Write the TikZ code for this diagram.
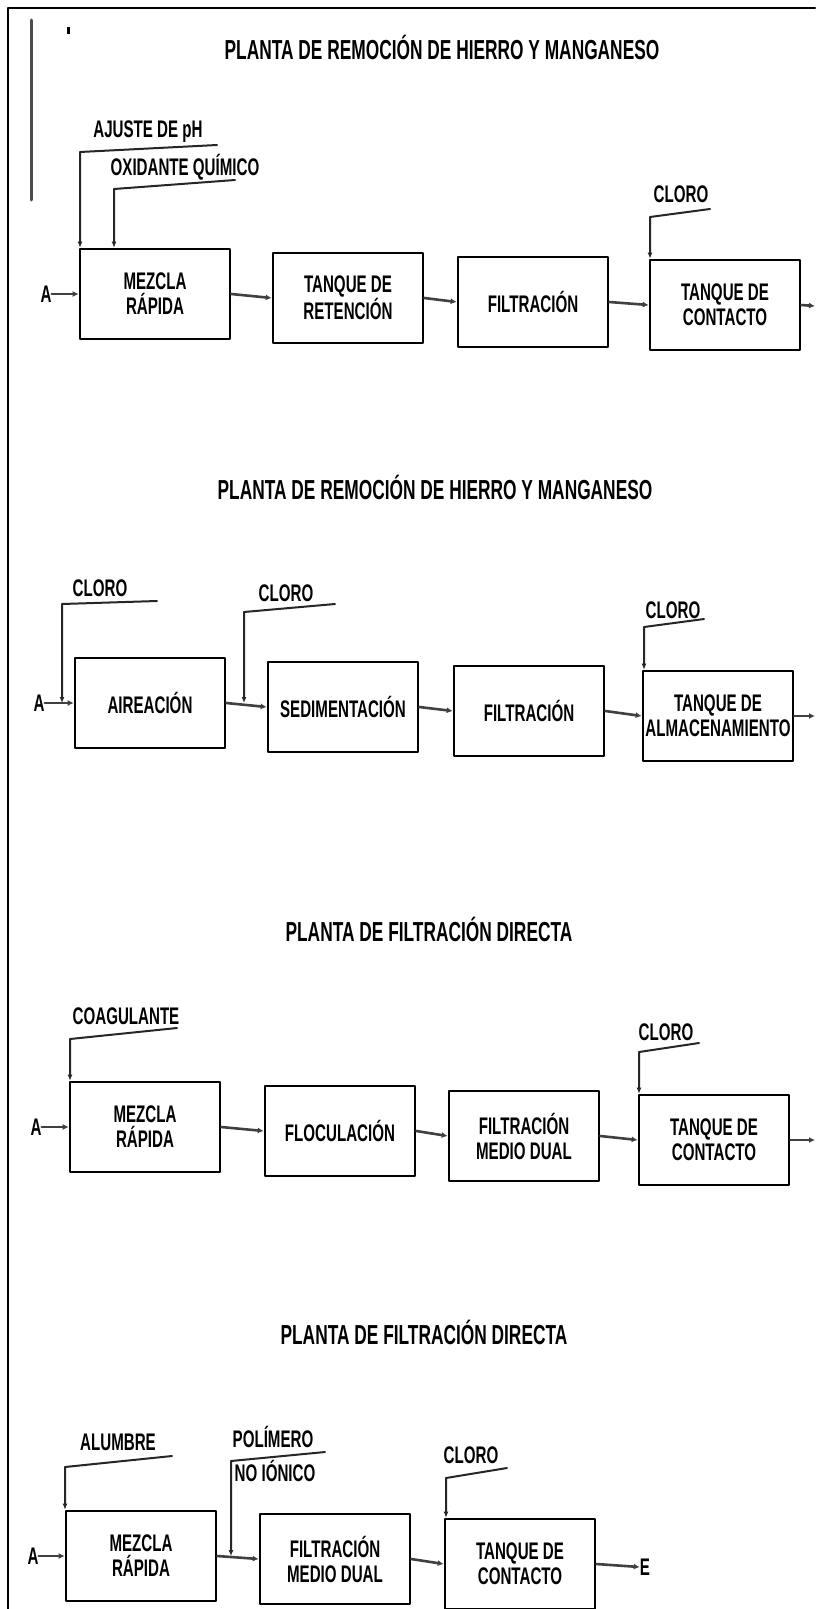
\documentclass[tikz,border=0pt]{standalone}
\usepackage{fontspec}
\setmainfont{Liberation Sans}[FakeStretch=0.63]
\usetikzlibrary{arrows.meta}

\newcommand{\boxfont}{\bfseries\fontsize{24}{25}\selectfont}
\newcommand{\titfont}{\bfseries\fontsize{27.5}{29}\selectfont}

\tikzset{
  proc/.style={draw=black, line width=2.6pt, minimum width=150pt,
    minimum height=90pt, inner sep=0pt, align=center, font=\boxfont},
  lbl/.style={inner sep=0pt, font=\boxfont},
  tit/.style={inner sep=0pt, font=\titfont},
  flow/.style={line width=2.6pt, black!75, -{Latex[length=6pt,width=6pt]}},
  feed/.style={line width=2pt, black!85, -{Latex[length=6pt,width=5pt]}},
}

\begin{document}
\begin{tikzpicture}[x=1pt,y=-1pt,line cap=round,line join=round]

  \useasboundingbox (0,0) rectangle (815,1609);

  % marco
  \draw[line width=2.8pt] (815,8) -- (8,8) -- (8,1609);
  \draw[line width=3pt, black!70] (31,20) -- (31,200);
  \fill (67,27) rectangle (70,34);

  % ---- fila 1 ----
  \node[tit] (t1) at (442,47) {PLANTA DE REMOCIÓN DE HIERRO Y MANGANESO};

  \node[proc] (mr1) at (155,294) {MEZCLA\\RÁPIDA};
  \node[proc] (tr1) at (348,298) {TANQUE DE\\RETENCIÓN};
  \node[proc] (fi1) at (533,302) {FILTRACIÓN};
  \node[proc] (tc1) at (725,305) {TANQUE DE\\CONTACTO};
  \node[lbl] (a1) at (46,294) {A};
  \coordinate (s1) at (815,306);

  \draw[flow] (a1.east) -- (mr1.west);
  \draw[flow] (mr1.east) -- (tr1.west);
  \draw[flow] (tr1.east) -- (fi1.west);
  \draw[flow] (fi1.east) -- (tc1.west);
  \draw[flow] (tc1.east) -- (s1);

  \node[lbl] (aj1) at (148,132) {AJUSTE DE pH};
  \coordinate (aj1c) at (80,152);
  \coordinate (aj1e) at (217,145);
  \draw[feed] (aj1e) -- (aj1c) -- (aj1c |- mr1.north);

  \node[lbl] (ox1) at (185,167) {OXIDANTE QUÍMICO};
  \coordinate (ox1c) at (114,189);
  \coordinate (ox1e) at (235,180);
  \draw[feed] (ox1e) -- (ox1c) -- (ox1c |- mr1.north);

  \node[lbl] (cl1) at (681,194) {CLORO};
  \coordinate (cl1c) at (650,217);
  \coordinate (cl1e) at (710,209);
  \draw[feed] (cl1e) -- (cl1c) -- (cl1c |- tc1.north);

  % ---- fila 2 ----
  \node[tit] (t2) at (435,487) {PLANTA DE REMOCIÓN DE HIERRO Y MANGANESO};

  \node[proc] (ai2) at (150,703) {AIREACIÓN};
  \node[proc] (se2) at (343,707) {SEDIMENTACIÓN};
  \node[proc] (fi2) at (529,711) {FILTRACIÓN};
  \node[proc] (al2) at (718,716) {TANQUE DE\\ALMACENAMIENTO};
  \node[lbl] (a2) at (39,703) {A};
  \coordinate (s2) at (815,716);

  \draw[flow] (a2.east) -- (ai2.west);
  \draw[flow] (ai2.east) -- (se2.west);
  \draw[flow] (se2.east) -- (fi2.west);
  \draw[flow] (fi2.east) -- (al2.west);
  \draw[flow] (al2.east) -- (s2);

  \node[lbl] (cl2a) at (100,588) {CLORO};
  \coordinate (cl2ac) at (62,604);
  \coordinate (cl2ae) at (157,601);
  \draw[feed] (cl2ae) -- (cl2ac) -- (cl2ac |- a2);

  \node[lbl] (cl2b) at (286,593) {CLORO};
  \coordinate (cl2bc) at (244,612);
  \coordinate (cl2be) at (335,604);
  \draw[feed] (cl2be) -- (cl2bc) -- (cl2bc |- ai2.east);

  \node[lbl] (cl2c) at (673,610) {CLORO};
  \coordinate (cl2cc) at (644,627);
  \coordinate (cl2ce) at (704,619);
  \draw[feed] (cl2ce) -- (cl2cc) -- (cl2cc |- al2.north);

  % ---- fila 3 ----
  \node[tit] (t3) at (429,929) {PLANTA DE FILTRACIÓN DIRECTA};

  \node[proc] (mr3) at (145,1127) {MEZCLA\\RÁPIDA};
  \node[proc] (fl3) at (340,1131) {FLOCULACIÓN};
  \node[proc] (fm3) at (524,1136) {FILTRACIÓN\\MEDIO DUAL};
  \node[proc] (tc3) at (714,1140) {TANQUE DE\\CONTACTO};
  \node[lbl] (a3) at (36,1127) {A};
  \coordinate (s3) at (815,1140);

  \draw[flow] (a3.east) -- (mr3.west);
  \draw[flow] (mr3.east) -- (fl3.west);
  \draw[flow] (fl3.east) -- (fm3.west);
  \draw[flow] (fm3.east) -- (tc3.west);
  \draw[flow] (tc3.east) -- (s3);

  \node[lbl] (co3) at (126,1016) {COAGULANTE};
  \coordinate (co3c) at (70,1039);
  \coordinate (co3e) at (177,1028);
  \draw[feed] (co3e) -- (co3c) -- (co3c |- mr3.north);

  \node[lbl] (cl3) at (666,1032) {CLORO};
  \coordinate (cl3c) at (639,1052);
  \coordinate (cl3e) at (699,1043);
  \draw[feed] (cl3e) -- (cl3c) -- (cl3c |- tc3.north);

  % ---- fila 4 ----
  \node[tit] (t4) at (424,1332) {PLANTA DE FILTRACIÓN DIRECTA};

  \node[proc] (mr4) at (141,1556) {MEZCLA\\RÁPIDA};
  \node[proc] (fm4) at (335,1559) {FILTRACIÓN\\MEDIO DUAL};
  \node[proc] (tc4) at (520,1564) {TANQUE DE\\CONTACTO};
  \node[lbl] (a4) at (33,1556) {A};
  \node[lbl] (e4) at (645,1567) {E};

  \draw[flow] (a4.east) -- (mr4.west);
  \draw[flow] (mr4.east) -- (fm4.west);
  \draw[flow] (fm4.east) -- (tc4.west);
  \draw[flow] (tc4.east) -- (e4.west);

  \node[lbl] (al4) at (118,1442) {ALUMBRE};
  \coordinate (al4c) at (65,1467);
  \coordinate (al4e) at (172,1456);
  \draw[feed] (al4e) -- (al4c) -- (al4c |- mr4.north);

  \node[lbl] (po4) at (273,1437) {POLÍMERO};
  \node[lbl] (no4) at (275,1471) {NO IÓNICO};
  \coordinate (po4c) at (231,1461);
  \coordinate (po4e) at (325,1452);
  \draw[feed] (po4e) -- (po4c) -- (po4c |- mr4.east);

  \node[lbl] (cl4) at (471,1455) {CLORO};
  \coordinate (cl4c) at (446,1478);
  \coordinate (cl4e) at (507,1468);
  \draw[feed] (cl4e) -- (cl4c) -- (cl4c |- tc4.north);

\end{tikzpicture}
\end{document}
